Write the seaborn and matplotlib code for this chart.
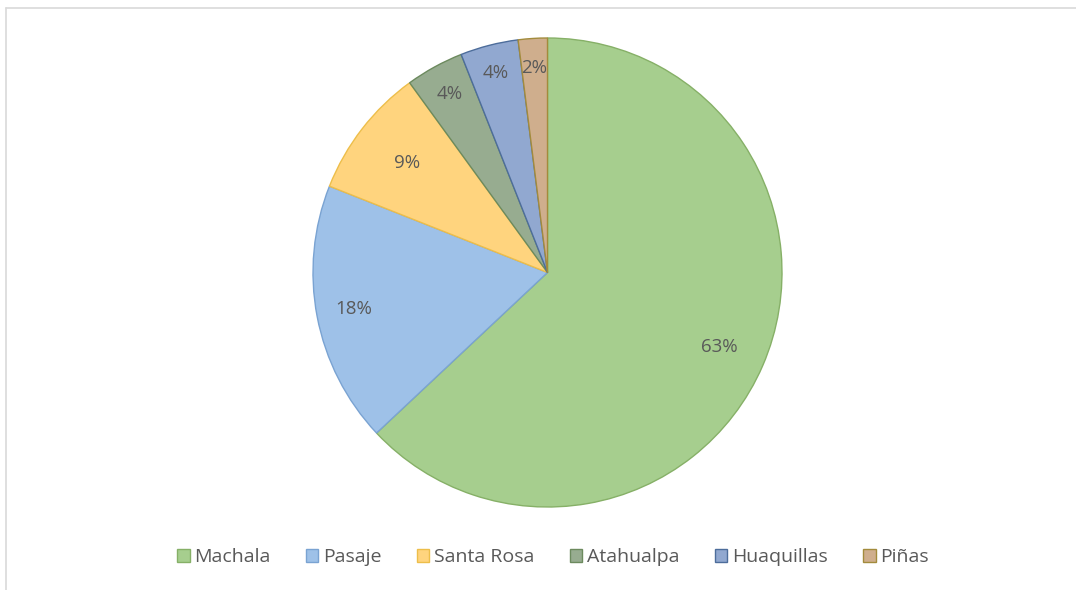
import matplotlib
matplotlib.use("Agg")
import numpy as np
import matplotlib.pyplot as plt
import seaborn as sns
from matplotlib.lines import Line2D
from matplotlib.patches import Patch

# data
cities = ["Machala", "Pasaje", "Santa Rosa", "Atahualpa", "Huaquillas", "Piñas"]
shares = [63, 18, 9, 4, 4, 2]

FILL = ["#A6CE8E", "#9EC1E8", "#FFD47E", "#97AC90", "#91A8D0", "#CFAE8D"]
EDGE = ["#86B067", "#7AA3D2", "#EDBE4A", "#6C8A5E", "#4D6D9B", "#A38B3C"]
TXT = "#595959"
# radial placement of each percentage label (Excel "best fit" look)
LABEL_R = [0.80, 0.84, 0.76, 0.87, 0.88, 0.875]

sns.set_theme(style="white")
plt.rcParams["font.family"] = ["Open Sans", "DejaVu Sans"]

W, H = 1076, 590
fig = plt.figure(figsize=(W / 100, H / 100), dpi=100, facecolor="white")

# pie centred at (547.5, 272.5) px with radius 234.5 px
cx, cy, r = 547.5, 272.5, 234.5
ax = fig.add_axes([(cx - r) / W, (H - cy - r) / H, 2 * r / W, 2 * r / H])

wedges, _, autotexts = ax.pie(
    shares, colors=FILL, startangle=90, counterclock=False,
    autopct="%1.0f%%", radius=1.0,
    wedgeprops={"linewidth": 1.0},
    textprops={"color": TXT, "fontsize": 13.5})
for w, ec, t, d in zip(wedges, EDGE, autotexts, LABEL_R):
    w.set_edgecolor(ec)
    ang = np.deg2rad((w.theta1 + w.theta2) / 2)
    t.set_position((d * np.cos(ang), d * np.sin(ang)))
ax.set_xlim(-1, 1); ax.set_ylim(-1, 1)
ax.set_aspect("equal")
ax.axis("off")

# frame lines (top and left only visible)
fig.add_artist(Line2D([6 / W, 1], [1 - 8 / H, 1 - 8 / H], color="#D9D9D9", lw=1.2))
fig.add_artist(Line2D([6 / W, 6 / W], [0, 1 - 8 / H], color="#D9D9D9", lw=1.2))

handles = [Patch(facecolor=f, edgecolor=e, linewidth=1.0) for f, e in zip(FILL, EDGE)]
fig.legend(handles, cities, loc="center", bbox_to_anchor=(553 / W, 1 - 557 / H),
           ncol=6, frameon=False, fontsize=14, labelcolor=TXT,
           handlelength=0.65, handleheight=0.65, handletextpad=0.25, columnspacing=1.8)

fig.savefig("out.png", dpi=100, facecolor="white")
